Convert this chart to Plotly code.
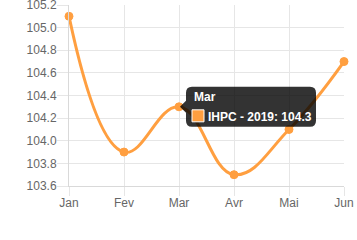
import plotly.graph_objects as go

months = ["Jan", "Fev", "Mar", "Avr", "Mai", "Jun"]
ihpc_2019 = [105.1, 103.9, 104.3, 103.7, 104.1, 104.7]
y_ticks = [103.6, 103.8, 104.0, 104.2, 104.4, 104.6, 104.8, 105.0, 105.2]
series_name = "IHPC - 2019"
tip_index = 2

W, H = 357, 240
L, R, T, B = 69, 13, 5, 54
PW, PH = W - L - R, H - T - B
ORANGE = "rgb(255,159,64)"
FONT = "Liberation Sans, Arial, sans-serif"


def px(x, y):
    return (x - L) / PW, (H - B - y) / PH


def rounded_box_with_caret(x0, y0, x1, y1, r, tip_x, tip_y, caret):
    def P(x, y):
        a, b = px(x, y)
        return f"{a:.5f},{b:.5f}"
    d = f"M{P(x0 + r, y0)} L{P(x1 - r, y0)} Q{P(x1, y0)} {P(x1, y0 + r)} "
    d += f"L{P(x1, y1 - r)} Q{P(x1, y1)} {P(x1 - r, y1)} "
    d += f"L{P(x0 + r, y1)} Q{P(x0, y1)} {P(x0, y1 - r)} "
    d += f"L{P(x0, tip_y + caret)} L{P(tip_x, tip_y)} L{P(x0, tip_y - caret)} "
    d += f"L{P(x0, y0 + r)} Q{P(x0, y0)} {P(x0 + r, y0)} Z"
    return d


fig = go.Figure()
fig.add_trace(go.Scatter(
    x=months, y=ihpc_2019, mode="lines+markers", name=series_name,
    line=dict(color=ORANGE, width=3, shape="spline", smoothing=1.2),
    marker=dict(color=ORANGE, size=8, line=dict(color=ORANGE, width=1)),
    cliponaxis=False, hoverinfo="skip",
))

# tooltip position derived from the data point
tip_px_x = L + tip_index * PW / (len(months) - 1)
tip_px_y = H - B - (ihpc_2019[tip_index] - y_ticks[0]) / (y_ticks[-1] - y_ticks[0]) * PH
bx0 = tip_px_x + 7
by0, by1 = tip_px_y - 20, tip_px_y + 20
bx1 = bx0 + 130

shapes = [
    dict(type="line", xref="paper", yref="paper", x0=0.002, x1=1, y0=1, y1=1,
         line=dict(color="white", width=2), layer="below"),
    dict(type="path", xref="paper", yref="paper",
         path=rounded_box_with_caret(bx0, by0, bx1, by1, 6, tip_px_x + 1, tip_px_y, 6),
         fillcolor="rgba(0,0,0,0.8)", line=dict(width=0), layer="above"),
]
sx0, sy0 = px(bx0 + 6, by0 + 23)
sx1, sy1 = px(bx0 + 18, by0 + 35)
shapes.append(dict(type="rect", xref="paper", yref="paper", x0=sx0, x1=sx1, y0=sy0, y1=sy1,
                   fillcolor=ORANGE, line=dict(color="white", width=1), layer="above"))

ax, ay = px(bx0 + 6, by0 + 10)
bx, byy = px(bx0 + 20, by0 + 30)
annotations = [
    dict(xref="paper", yref="paper", x=ax, y=ay, xanchor="left", yanchor="middle",
         text=f"<b>{months[tip_index]}</b>", showarrow=False,
         font=dict(family=FONT, size=12, color="white")),
    dict(xref="paper", yref="paper", x=bx, y=byy, xanchor="left", yanchor="middle",
         text=f"<b>{series_name}: {ihpc_2019[tip_index]}</b>", showarrow=False,
         font=dict(family=FONT, size=12, color="white")),
]

fig.update_layout(
    width=W, height=H, margin=dict(l=L, r=R, t=T, b=B, pad=0, autoexpand=False),
    paper_bgcolor="white", plot_bgcolor="white", showlegend=False,
    font=dict(family=FONT, size=12, color="#666"),
    shapes=shapes, annotations=annotations,
    xaxis=dict(type="category", range=[0, len(months) - 1], showgrid=True,
               gridcolor="#e6e6e6", showline=True, linecolor="#d9d9d9", linewidth=1,
               ticks="outside", ticklen=9, tickcolor="#e6e6e6", zeroline=False,
               ticklabelstandoff=-3, ticklabeloverflow="allow", automargin=False,
               tickfont=dict(family=FONT, size=12, color="#666"), fixedrange=True),
    yaxis=dict(range=[y_ticks[0], y_ticks[-1]], tickvals=y_ticks,
               ticktext=[f"{v:.1f}" for v in y_ticks], showgrid=True,
               gridcolor="#e6e6e6", showline=True, linecolor="#d9d9d9", linewidth=1,
               ticks="outside", ticklen=11, tickcolor="#e6e6e6", zeroline=False,
               ticklabelstandoff=-2, ticklabeloverflow="allow", automargin=False,
               tickfont=dict(family=FONT, size=12, color="#666"), fixedrange=True),
)

fig.write_html("out.html", config={"displayModeBar": False})
